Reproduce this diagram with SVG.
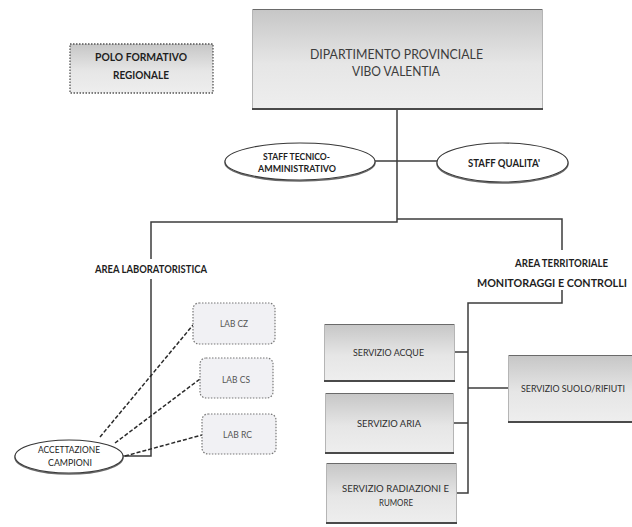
<svg xmlns="http://www.w3.org/2000/svg" width="632" height="527" viewBox="0 0 632 527">
<style>
  text { font-family: Lato, "Liberation Sans", sans-serif; }
  .lbl { font-weight: bold; font-size: 11px; fill: #1e1e1e; }
  .stf { font-weight: bold; font-size: 10px; fill: #1e1e1e; }
  .dep { font-size: 12.5px; fill: #3c3c3c; }
  .srv { font-size: 9.5px; fill: #2e2e2e; }
  .lab { font-size: 9px; fill: #555; }
  .acc { font-size: 10px; fill: #222; }
  .box { fill: url(#grey); stroke: none; }
  .topb { stroke: #6a6a6a; stroke-width: 1; fill: none; }
  .sideb { stroke: #b5b5b5; stroke-width: 1; fill: none; }
  .botb { stroke: #4a4a4a; stroke-width: 2; fill: none; }
  .conn { stroke: #3c3c3c; stroke-width: 1.5; fill: none; }
  .dash { stroke: #2a2a2a; stroke-width: 1.5; fill: none; stroke-dasharray: 4 2; }
  .ell { fill: #ffffff; stroke: #3a3a3a; stroke-width: 1.1; }
  .ellsh { fill: none; stroke: #6a6a6a; stroke-width: 1.5; }
  .labbox { fill: #f1f1f4; stroke: #777; stroke-width: 1.2; stroke-dasharray: 1.5 1.5; }
</style>
<defs>
  <linearGradient id="grey" x1="0" y1="0" x2="0" y2="1">
    <stop offset="0" stop-color="#c6c6c6"/>
    <stop offset="0.55" stop-color="#e6e6e6"/>
    <stop offset="1" stop-color="#eeeeee"/>
  </linearGradient>
</defs>

<g id="connectors">
  <path class="conn" d="M397 109 V222 H151 V259"/>
  <path class="conn" d="M151 279 V456 H123"/>
  <path class="conn" d="M397 219 H562 V250"/>
  <path class="conn" d="M562 290 V303 H468 V493 H457"/>
  <path class="conn" d="M375 161 H437"/>
  <path class="conn" d="M455 352 H468"/>
  <path class="conn" d="M454 423 H468"/>
  <path class="conn" d="M468 388 H508"/>
  <path class="dash" d="M100 437 L193 325"/>
  <path class="dash" d="M115 443 L200 379"/>
  <path class="dash" d="M125 456 L202 435"/>
</g>

<g id="polo">
  <rect x="70" y="44" width="143" height="49" fill="url(#grey)" stroke="#555" stroke-width="1.3" stroke-dasharray="1.5 1.5"/>
  <text class="lbl" x="95" y="61" textLength="92" lengthAdjust="spacingAndGlyphs">POLO FORMATIVO</text>
  <text class="lbl" x="113" y="79" textLength="56" lengthAdjust="spacingAndGlyphs">REGIONALE</text>
</g>

<g id="dipartimento">
  <rect class="box" x="252" y="9" width="291" height="100"/>
  <path class="topb" d="M252 9.5 H543"/>
  <path class="sideb" d="M252.5 9 V109 M542.5 9 V109"/>
  <path class="botb" d="M252 109 H543"/>
  <text class="dep" x="310" y="59" textLength="173" lengthAdjust="spacingAndGlyphs">DIPARTIMENTO PROVINCIALE</text>
  <text class="dep" x="352" y="76" textLength="88" lengthAdjust="spacingAndGlyphs">VIBO VALENTIA</text>
</g>

<g id="staff-tecnico">
  <ellipse class="ellsh" cx="300" cy="162.5" rx="75" ry="18.5"/>
  <ellipse class="ell" cx="300" cy="161.5" rx="75" ry="18.5"/>
  <text class="stf" x="263" y="159.5" textLength="67" lengthAdjust="spacingAndGlyphs">STAFF TECNICO-</text>
  <text class="stf" x="258" y="171.5" textLength="78" lengthAdjust="spacingAndGlyphs">AMMINISTRATIVO</text>
</g>

<g id="staff-qualita">
  <ellipse class="ellsh" cx="502.5" cy="163.5" rx="65.5" ry="19.5"/>
  <ellipse class="ell" cx="502.5" cy="162.5" rx="65.5" ry="19.5"/>
  <text class="lbl" x="468" y="167" textLength="72" lengthAdjust="spacingAndGlyphs">STAFF QUALITA'</text>
</g>

<g id="area-laboratoristica">
  <text class="lbl" x="95" y="273" textLength="112" lengthAdjust="spacingAndGlyphs">AREA LABORATORISTICA</text>
</g>

<g id="area-territoriale">
  <text class="lbl" x="515" y="267" textLength="93" lengthAdjust="spacingAndGlyphs">AREA TERRITORIALE</text>
  <text class="lbl" x="477" y="287" textLength="150" lengthAdjust="spacingAndGlyphs">MONITORAGGI E CONTROLLI</text>
</g>

<g id="lab-cz">
  <rect class="labbox" x="193" y="303" width="82" height="41" rx="6"/>
  <text class="lab" x="220" y="326.5" textLength="28" lengthAdjust="spacingAndGlyphs">LAB CZ</text>
</g>
<g id="lab-cs">
  <rect class="labbox" x="200" y="358" width="73" height="40" rx="6"/>
  <text class="lab" x="222" y="382.5" textLength="28" lengthAdjust="spacingAndGlyphs">LAB CS</text>
</g>
<g id="lab-rc">
  <rect class="labbox" x="202" y="414" width="74" height="40" rx="6"/>
  <text class="lab" x="223" y="437.5" textLength="29" lengthAdjust="spacingAndGlyphs">LAB RC</text>
</g>

<g id="accettazione">
  <ellipse class="ellsh" cx="69" cy="457.5" rx="54" ry="16.5"/>
  <ellipse class="ell" cx="69" cy="456.5" rx="54" ry="16.5"/>
  <text class="acc" x="38" y="452.5" textLength="62" lengthAdjust="spacingAndGlyphs">ACCETTAZIONE</text>
  <text class="acc" x="48" y="465.5" textLength="44" lengthAdjust="spacingAndGlyphs">CAMPIONI</text>
</g>

<g id="servizio-acque">
  <rect class="box" x="324" y="324" width="131" height="57"/>
  <path class="topb" d="M324 324.5 H455"/>
  <path class="sideb" d="M324.5 324 V381 M454.5 324 V381"/>
  <path class="botb" d="M324 381 H455"/>
  <text class="srv" x="353" y="355.5" textLength="71" lengthAdjust="spacingAndGlyphs">SERVIZIO ACQUE</text>
</g>

<g id="servizio-aria">
  <rect class="box" x="325" y="393" width="129" height="60"/>
  <path class="topb" d="M325 393.5 H454"/>
  <path class="sideb" d="M325.5 393 V453 M453.5 393 V453"/>
  <path class="botb" d="M325 453 H454"/>
  <text class="srv" x="357" y="426.5" textLength="64" lengthAdjust="spacingAndGlyphs">SERVIZIO  ARIA</text>
</g>

<g id="servizio-radiazioni">
  <rect class="box" x="326" y="463" width="131" height="60"/>
  <path class="topb" d="M326 463.5 H457"/>
  <path class="sideb" d="M326.5 463 V523 M456.5 463 V523"/>
  <path class="botb" d="M326 523 H457"/>
  <text class="srv" x="342" y="491.5" textLength="107" lengthAdjust="spacingAndGlyphs">SERVIZIO RADIAZIONI E</text>
  <text class="srv" x="379" y="505.5" textLength="34" lengthAdjust="spacingAndGlyphs">RUMORE</text>
</g>

<g id="servizio-suolo">
  <rect class="box" x="508" y="355" width="124" height="67"/>
  <path class="topb" d="M508 355.5 H632"/>
  <path class="sideb" d="M508.5 355 V422"/>
  <path class="botb" d="M508 422 H632"/>
  <text class="srv" x="521" y="391.5" textLength="104" lengthAdjust="spacingAndGlyphs">SERVIZIO SUOLO/RIFIUTI</text>
</g>
</svg>
